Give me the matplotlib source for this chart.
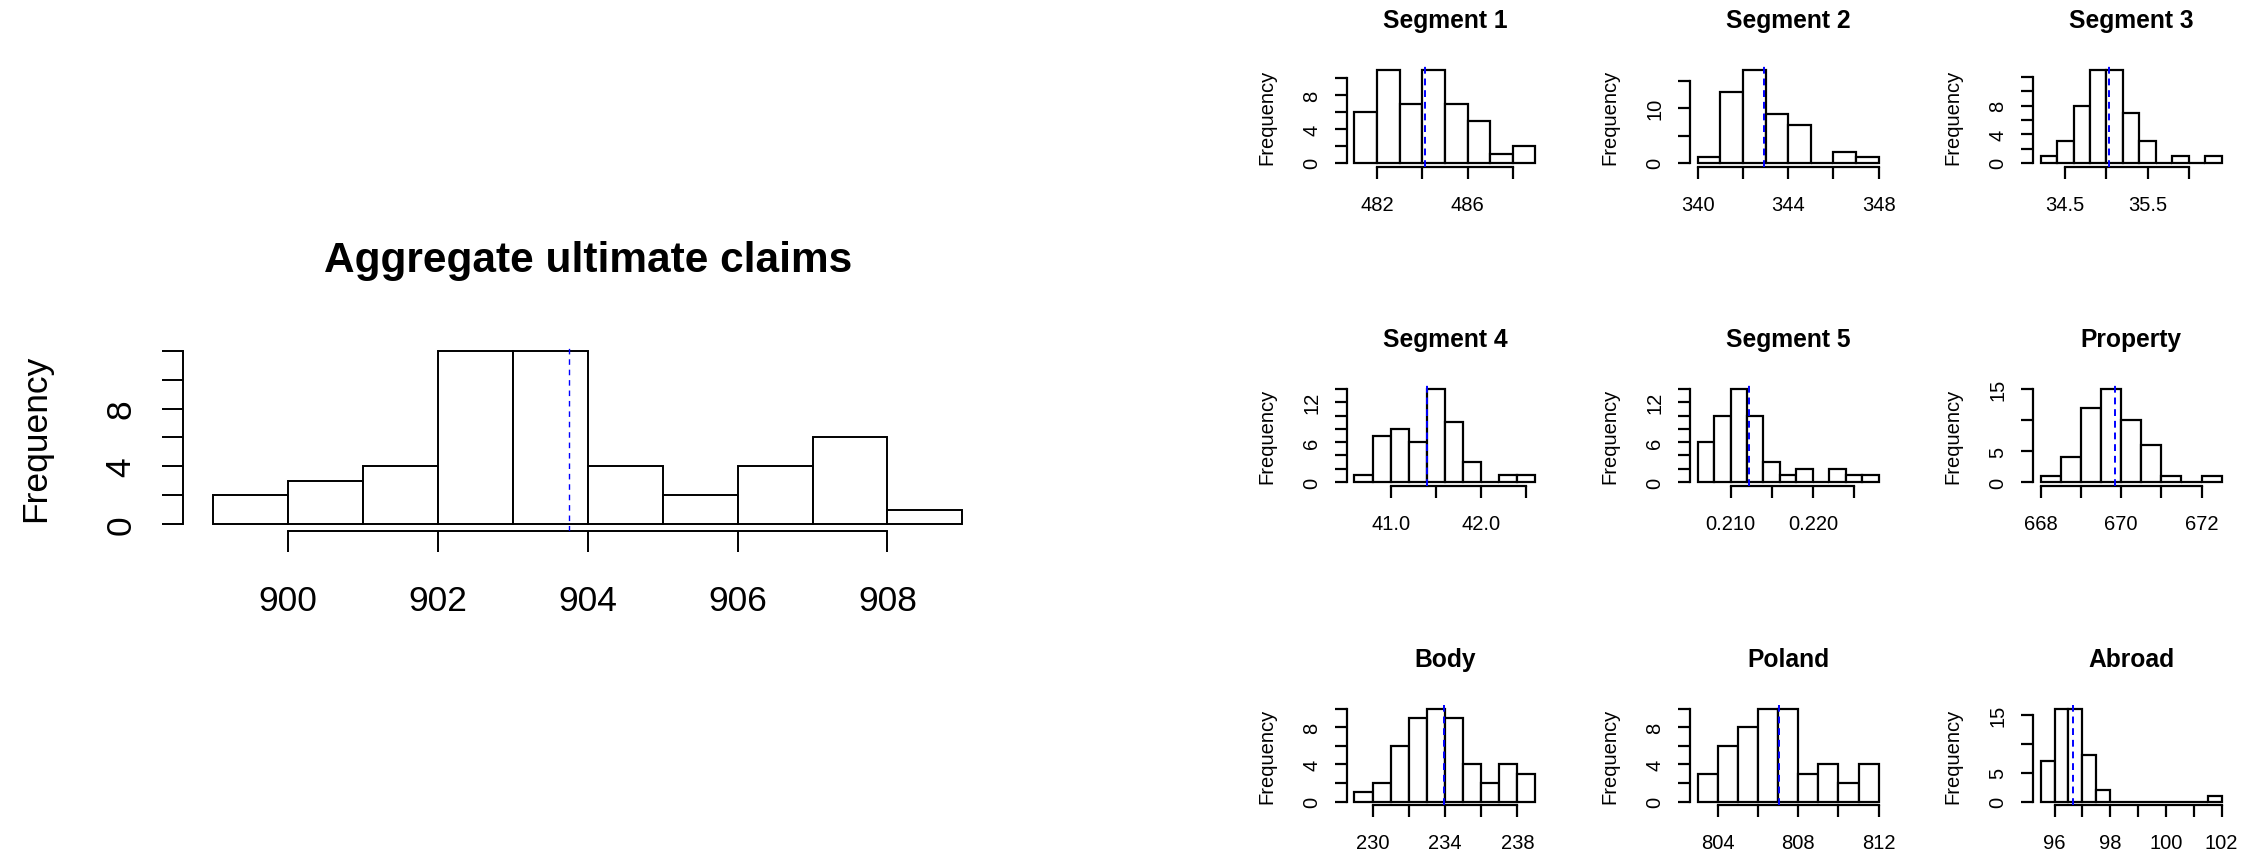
import numpy as np
import matplotlib
matplotlib.use("Agg")
import matplotlib.pyplot as plt

# ---------------- data ----------------
agg_title = "Aggregate ultimate claims"
agg_edges = [899, 900, 901, 902, 903, 904, 905, 906, 907, 908, 909]
agg_counts = [2, 3, 4, 12, 12, 4, 2, 4, 6, 1]
agg_mean = 903.75
agg_xticks = [900, 902, 904, 906, 908]
agg_xlabels = ["900", "902", "904", "906", "908"]
agg_yticks = [0, 2, 4, 6, 8, 10, 12]
agg_ylabels = ["0", "", "4", "", "8", "", ""]

panel_titles = ["Segment 1", "Segment 2", "Segment 3",
                "Segment 4", "Segment 5", "Property",
                "Body", "Poland", "Abroad"]

seg1_edges = [481, 482, 483, 484, 485, 486, 487, 488, 489]
seg1_counts = [6, 11, 7, 11, 7, 5, 1, 2]
seg2_edges = [340, 341, 342, 343, 344, 345, 346, 347, 348]
seg2_counts = [1, 13, 17, 9, 7, 0, 2, 1]
seg3_edges = [34.2, 34.4, 34.6, 34.8, 35.0, 35.2, 35.4, 35.6, 35.8, 36.0, 36.2, 36.4]
seg3_counts = [1, 3, 8, 13, 13, 7, 3, 0, 1, 0, 1]
seg4_edges = [40.6, 40.8, 41.0, 41.2, 41.4, 41.6, 41.8, 42.0, 42.2, 42.4, 42.6]
seg4_counts = [1, 7, 8, 6, 14, 9, 3, 0, 1, 1]
seg5_edges = [0.206, 0.208, 0.210, 0.212, 0.214, 0.216, 0.218, 0.220, 0.222, 0.224, 0.226, 0.228]
seg5_counts = [6, 10, 14, 10, 3, 1, 2, 0, 2, 1, 1]
prop_edges = [668.0, 668.5, 669.0, 669.5, 670.0, 670.5, 671.0, 671.5, 672.0, 672.5]
prop_counts = [1, 4, 12, 15, 10, 6, 1, 0, 1]
body_edges = [229, 230, 231, 232, 233, 234, 235, 236, 237, 238, 239]
body_counts = [1, 2, 6, 9, 10, 9, 4, 2, 4, 3]
pol_edges = [803, 804, 805, 806, 807, 808, 809, 810, 811, 812]
pol_counts = [3, 6, 8, 10, 10, 3, 4, 2, 4]
abr_edges = [95.5, 96.0, 96.5, 97.0, 97.5, 98.0, 98.5, 99.0, 99.5, 100.0, 100.5, 101.0, 101.5, 102.0]
abr_counts = [7, 16, 16, 8, 2, 0, 0, 0, 0, 0, 0, 0, 1]

panel_edges = [seg1_edges, seg2_edges, seg3_edges, seg4_edges, seg5_edges,
               prop_edges, body_edges, pol_edges, abr_edges]
panel_counts = [seg1_counts, seg2_counts, seg3_counts, seg4_counts, seg5_counts,
                prop_counts, body_counts, pol_counts, abr_counts]
panel_means = [484.10, 342.95, 35.03, 41.40, 0.21228, 669.85, 233.97, 807.03, 96.66]

panel_xticks = [[482, 484, 486, 488],
                [340, 342, 344, 346, 348],
                [34.5, 35.0, 35.5, 36.0],
                [41.0, 41.5, 42.0, 42.5],
                [0.210, 0.215, 0.220, 0.225],
                [668, 669, 670, 671, 672],
                [230, 232, 234, 236, 238],
                [804, 806, 808, 810, 812],
                [96, 97, 98, 99, 100, 101, 102]]
panel_xlabels = [["482", "", "486", ""],
                 ["340", "", "344", "", "348"],
                 ["34.5", "", "35.5", ""],
                 ["41.0", "", "42.0", ""],
                 ["0.210", "", "0.220", ""],
                 ["668", "", "670", "", "672"],
                 ["230", "", "234", "", "238"],
                 ["804", "", "808", "", "812"],
                 ["96", "", "98", "", "100", "", "102"]]
panel_yticks = [[0, 2, 4, 6, 8, 10],
                [0, 5, 10, 15],
                [0, 2, 4, 6, 8, 10, 12],
                [0, 2, 4, 6, 8, 10, 12, 14],
                [0, 2, 4, 6, 8, 10, 12, 14],
                [0, 5, 10, 15],
                [0, 2, 4, 6, 8, 10],
                [0, 2, 4, 6, 8, 10],
                [0, 5, 10, 15]]
panel_ylabels = [["0", "", "4", "", "8", ""],
                 ["0", "", "10", ""],
                 ["0", "", "4", "", "8", "", ""],
                 ["0", "", "", "6", "", "", "12", ""],
                 ["0", "", "", "6", "", "", "12", ""],
                 ["0", "5", "", "15"],
                 ["0", "", "4", "", "8", ""],
                 ["0", "", "4", "", "8", ""],
                 ["0", "5", "", "15"]]

# ---------------- layout ----------------
W, H = 2257, 853
DPI = 100
PT = 72.0 / DPI  # points per pixel

plt.rcParams["font.family"] = ["Liberation Sans", "DejaVu Sans"]

fig = plt.figure(figsize=(W / DPI, H / DPI), dpi=DPI)
fig.patch.set_facecolor("white")


def px_axes(left, top, right, bottom):
    return fig.add_axes([left / W, (H - bottom) / H, (right - left) / W, (bottom - top) / H])


def draw_hist(ax, edges, counts, mean, xticks, xlabels, yticks, ylabels, title,
              lw, fs, tfs, ticklen, xpad, ypad, title_pad, ylab_off, width_px,
              mean_lw, dash):
    edges = np.asarray(edges, dtype=float)
    counts = np.asarray(counts, dtype=float)
    ax.bar(edges[:-1], counts, width=np.diff(edges), align="edge",
           facecolor="white", edgecolor="black", linewidth=lw, zorder=2)
    xr = edges[-1] - edges[0]
    ax.set_xlim(edges[0] - 0.04 * xr, edges[-1] + 0.04 * xr)
    ym = counts.max()
    ax.set_ylim(-0.04 * ym, 1.04 * ym)
    ax.axvline(mean, color="blue", lw=mean_lw, ls=(0, dash), zorder=3)
    for s in ("top", "right"):
        ax.spines[s].set_visible(False)
    ax.spines["left"].set_bounds(yticks[0], yticks[-1])
    ax.spines["bottom"].set_bounds(xticks[0], xticks[-1])
    for s in ("left", "bottom"):
        ax.spines[s].set_linewidth(lw)
    ax.set_xticks(xticks)
    ax.set_xticklabels(xlabels, fontsize=fs)
    ax.set_yticks(yticks)
    ax.set_yticklabels(ylabels, fontsize=fs, rotation=90, va="center")
    ax.tick_params(axis="x", direction="out", length=ticklen, width=lw, pad=xpad)
    ax.tick_params(axis="y", direction="out", length=ticklen, width=lw, pad=ypad)
    ax.set_title(title, fontsize=tfs, fontweight="bold", pad=title_pad)
    ax.set_ylabel("Frequency", fontsize=fs)
    ax.yaxis.set_label_coords(-ylab_off / width_px, 0.5)
    ax.patch.set_alpha(0)


# main panel
m_left, m_top, m_right, m_bottom = 183.3, 344.7, 992.3, 532.2
ax = px_axes(m_left, m_top, m_right, m_bottom)
draw_hist(ax, agg_edges, agg_counts, agg_mean, agg_xticks, agg_xlabels,
          agg_yticks, agg_ylabels, agg_title,
          lw=1.4, fs=25.5, tfs=30.5, ticklen=21 * PT, xpad=32 * PT, ypad=25 * PT,
          title_pad=73 * PT, ylab_off=130.7, width_px=m_right - m_left,
          mean_lw=1.0, dash=(4, 3.5))

# small panels
col_lefts = [1347.2, 1690.4, 2033.4]
col_w = 195.5
row_tops = [67.2, 386.3, 706.0]
row_h = 100.4

for i in range(9):
    r, c = divmod(i, 3)
    l = col_lefts[c]
    t = row_tops[r]
    ax = px_axes(l, t, l + col_w, t + row_h)
    draw_hist(ax, panel_edges[i], panel_counts[i], panel_means[i],
              panel_xticks[i], panel_xlabels[i], panel_yticks[i], panel_ylabels[i],
              panel_titles[i],
              lw=1.6, fs=14.5, tfs=17.7, ticklen=12 * PT, xpad=16 * PT, ypad=14 * PT,
              title_pad=39 * PT, ylab_off=70.8, width_px=col_w,
              mean_lw=1.4, dash=(3.5, 2.5))

fig.savefig("out.png", dpi=DPI, facecolor="white")
